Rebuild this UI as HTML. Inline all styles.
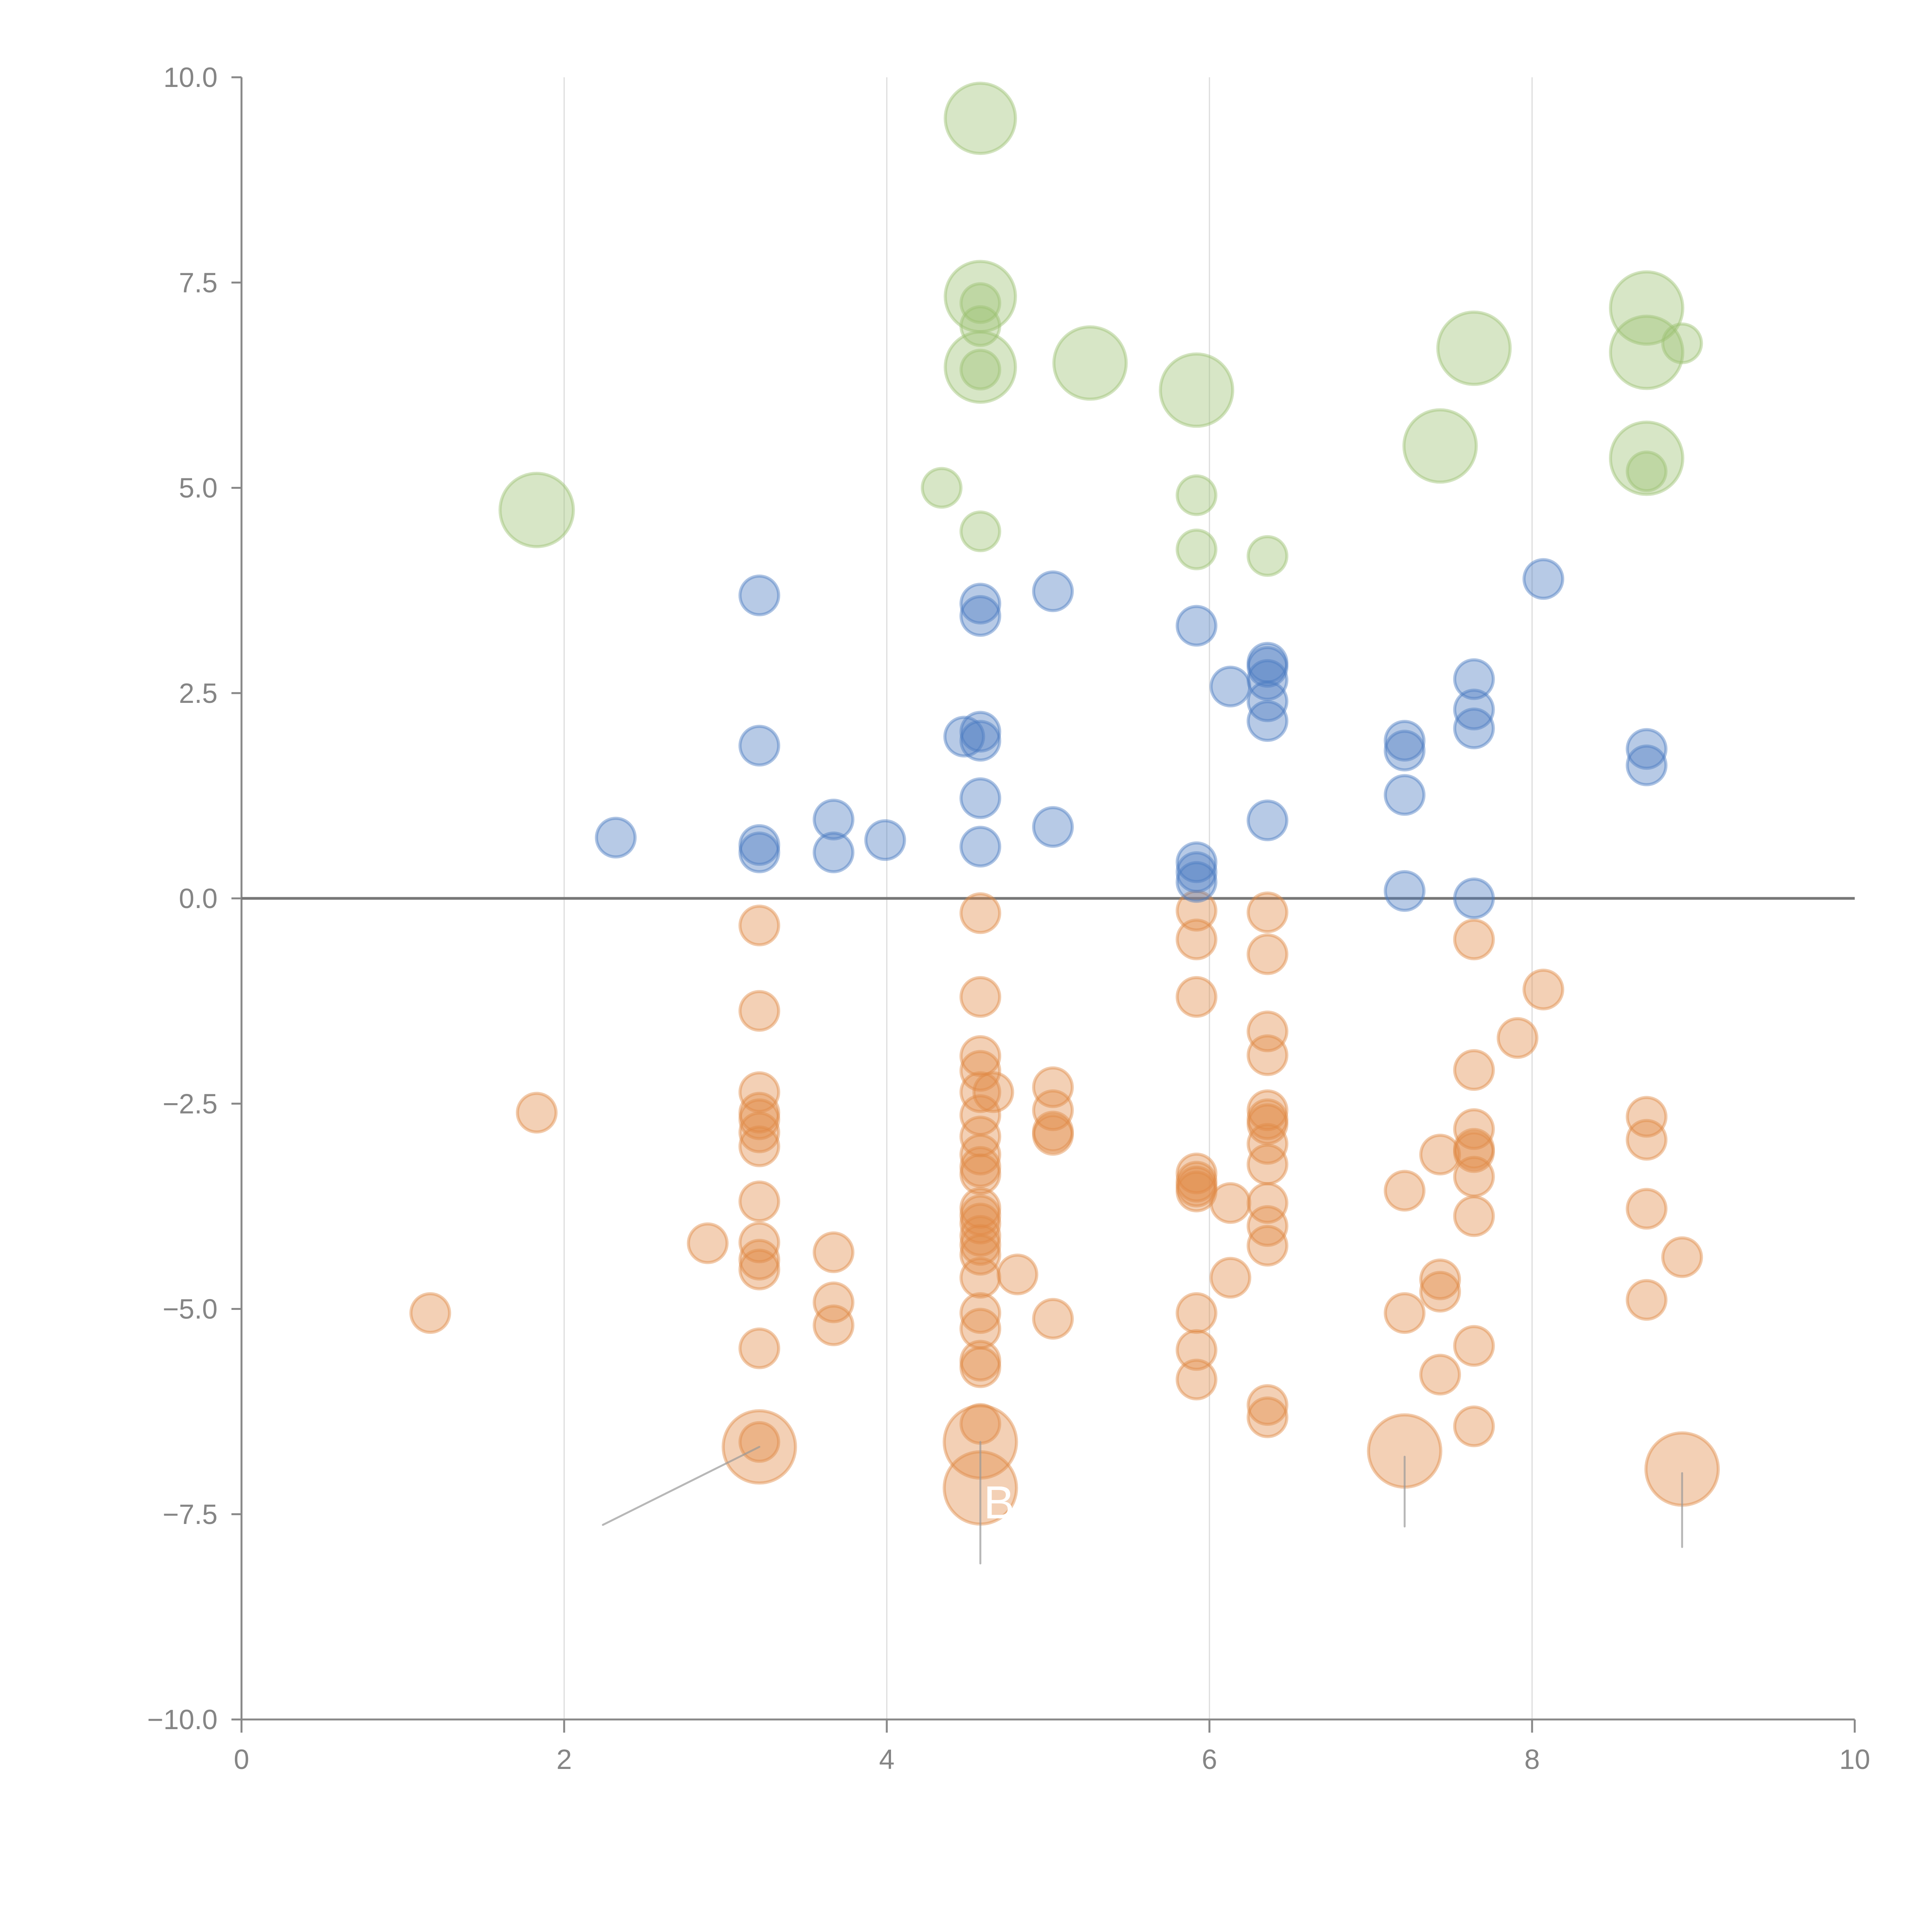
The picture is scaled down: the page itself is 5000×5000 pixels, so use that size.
<!DOCTYPE html>
<html><head><meta charset="utf-8"><style>html,body{margin:0;padding:0;background:#fff}svg{display:block}</style></head>
<body>
<svg id="chart" width="5000" height="5000" viewBox="0 0 5000 5000" xmlns="http://www.w3.org/2000/svg" font-family="'Liberation Sans', Arial, sans-serif">
<g id="grid"></g>
<g id="axes"></g>
<g id="marks"></g>
<g id="notes"></g>
</svg>
<script>
const xTicks = [0, 2, 4, 6, 8, 10];
const yTicks = [-10, -7.5, -5, -2.5, 0, 2.5, 5, 7.5, 10];
const yTickLabels = ["\u221210.0","\u22127.5","\u22125.0","\u22122.5","0.0","2.5","5.0","7.5","10.0"];

const blueX = [2.32,3.21,3.21,3.21,3.21,3.67,3.67,3.99,4.48,4.58,4.58,4.58,4.58,4.58,4.58,5.03,5.03,5.92,5.92,5.92,5.92,6.13,6.36,6.36,6.36,6.36,6.36,6.36,7.21,7.21,7.21,7.21,7.64,7.64,7.64,7.64,8.07,8.71,8.71];
const blueY = [0.74,3.69,1.86,0.65,0.56,0.96,0.56,0.71,1.97,3.59,3.44,2.03,1.92,1.22,0.63,3.74,0.87,3.32,0.44,0.32,0.2,2.58,2.87,2.82,2.66,2.4,2.16,0.95,1.92,1.8,1.26,0.09,2.67,2.3,2.07,0,3.89,1.82,1.62];

const greenX = [1.83,4.58,4.58,4.58,4.58,4.58,4.58,5.26,5.92,4.34,4.58,5.92,5.92,6.36,7.43,7.64,8.71,8.71,8.71,8.71,8.93];
const greenY = [4.73,9.5,7.33,7.25,6.97,6.47,6.44,6.52,6.19,5.0,4.47,4.91,4.25,4.17,5.51,6.70,7.19,6.65,5.36,5.2,6.76];
const greenSize = [3.6,3.3,3.3,1,1,3.3,1,3.5,3.5,1,1,1,1,1,3.5,3.5,3.5,3.5,3.5,1,1];

const orangeX = [1.17,1.83,2.89,
 3.21,3.21,3.21,3.21,3.21,3.21,3.21,3.21,3.21,3.21,3.21,3.21,3.21,3.21,
 3.67,3.67,3.67,
 4.58,4.58,4.58,4.58,4.58,4.58,4.58,4.58,4.58,4.58,4.58,4.58,4.58,4.58,4.58,4.58,4.58,4.58,4.58,4.58,4.58,4.58,4.58,4.58,
 4.66,4.81,
 5.03,5.03,5.03,5.03,5.03,
 5.92,5.92,5.92,5.92,5.92,5.92,5.92,5.92,5.92,5.92,
 6.13,6.13,
 6.36,6.36,6.36,6.36,6.36,6.36,6.36,6.36,6.36,6.36,6.36,6.36,6.36,6.36,
 7.21,7.21,7.21,
 7.43,7.43,7.43,7.43,
 7.64,7.64,7.64,7.64,7.64,7.64,7.64,7.64,7.64,
 7.91,8.07,
 8.71,8.71,8.71,8.71,
 8.93,8.93];
const orangeY = [-5.05,-2.61,-4.20,
 -0.33,-1.37,-2.36,-2.61,-2.69,-2.85,-3.02,-3.69,-4.19,-4.40,-4.52,-5.48,-6.62,-6.68,
 -4.31,-4.92,-5.20,
 -0.18,-1.20,-1.92,-2.10,-2.36,-2.64,-2.90,-3.12,-3.27,-3.36,-3.77,-3.86,-3.96,-4.11,-4.22,-4.34,-4.62,-5.05,-5.24,-5.63,-5.71,-6.40,-6.62,-7.18,
 -2.36,-4.58,
 -2.30,-2.58,-2.84,-2.88,-5.12,
 -0.15,-0.50,-1.20,-3.35,-3.45,-3.51,-3.57,-5.05,-5.50,-5.86,
 -3.71,-4.62,
 -0.17,-0.68,-1.62,-1.91,-2.58,-2.69,-2.75,-2.99,-3.24,-3.71,-3.99,-4.23,-6.17,-6.32,
 -3.56,-5.05,-6.73,
 -3.12,-4.64,-4.79,-5.80,
 -0.50,-2.09,-2.81,-3.05,-3.09,-3.39,-3.87,-5.45,-6.43,
 -1.70,-1.11,
 -2.66,-2.94,-3.78,-4.89,
 -4.37,-6.95];
const orangeBig = [16,42,43,79,100];

const X0 = 625, X1 = 4800, Y0 = 4450, Y1 = 200;
function sx(v){ return X0 + (v - 0) / 10 * (X1 - X0); }
function sy(v){ return Y0 - (v + 10) / 20 * (Y0 - Y1); }
const NS = "http://www.w3.org/2000/svg";
function mk(tag, attrs, parent){ const e = document.createElementNS(NS, tag); for (const k in attrs) e.setAttribute(k, attrs[k]); parent.appendChild(e); return e; }

const grid = document.getElementById('grid');
const axes = document.getElementById('axes');
const marks = document.getElementById('marks');
const notes = document.getElementById('notes');

[2,4,6,8].forEach(function(t){
  const l = mk('line', {x1:sx(t), x2:sx(t), y1:Y1, y2:Y0, stroke:'#dcdcdc', 'stroke-width':3}, grid);
  
  
});

const ya = mk('line', {x1:X0, x2:X0, y1:Y1, y2:Y0, stroke:'#888', 'stroke-width':5}, axes);


const xa = mk('line', {x1:X0, x2:X1, y1:Y0, y2:Y0, stroke:'#888', 'stroke-width':5}, axes);



yTicks.forEach(function(t, i){
  const tk = mk('line', {x1:X0-26, x2:X0, y1:sy(t), y2:sy(t), stroke:'#888', 'stroke-width':5}, axes);
  
  
  const tx = mk('text', {x:X0-62, y:sy(t)+25, 'text-anchor':'end', 'font-size':72, fill:'#858585'}, axes);
  tx.textContent = yTickLabels[i];
  
  
});
xTicks.forEach(function(t){
  const tk = mk('line', {x1:sx(t), x2:sx(t), y1:Y0, y2:Y0+34, stroke:'#888', 'stroke-width':5}, axes);
  
  
  const tx = mk('text', {x:sx(t), y:Y0+128, 'text-anchor':'middle', 'font-size':72, fill:'#858585'}, axes);
  tx.textContent = String(t);
  
  
});

const zl = mk('line', {x1:X0, x2:X1, y1:sy(0), y2:sy(0), stroke:'#777', 'stroke-width':7}, axes);



const R = 50;
function bubble(x, y, s, fill, name){
  const c = mk('circle', {cx:sx(x), cy:sy(y), r:R*Math.sqrt(s), fill:fill, 'fill-opacity':0.4, stroke:fill, 'stroke-opacity':0.45, 'stroke-width':8}, marks);
  
  
}
orangeX.forEach(function(x, i){ bubble(x, orangeY[i], orangeBig.indexOf(i) >= 0 ? 3.5 : 1, '#e08a45', 'orange-bubble'); });
blueX.forEach(function(x, i){ bubble(x, blueY[i], 1, '#4a7bc0', 'blue-bubble'); });
greenX.forEach(function(x, i){ bubble(x, greenY[i], greenSize[i], '#9cc070', 'green-bubble'); });

const leaders = [[3.21,-6.68,2.24,-7.63],[4.58,-6.62,4.58,-8.1],[7.21,-6.8,7.21,-7.65],[8.93,-7.0,8.93,-7.9]];
leaders.forEach(function(p){
  const l = mk('line', {x1:sx(p[0]), y1:sy(p[1]), x2:sx(p[2]), y2:sy(p[3]), stroke:'#999', 'stroke-opacity':0.7, 'stroke-width':5, 'stroke-linecap':'round'}, notes);
  
  
});
const b = mk('text', {x:sx(4.6), y:sy(-7.55), 'font-size':120, fill:'#fff'}, notes);
b.textContent = 'B';


</script>
</body></html>
